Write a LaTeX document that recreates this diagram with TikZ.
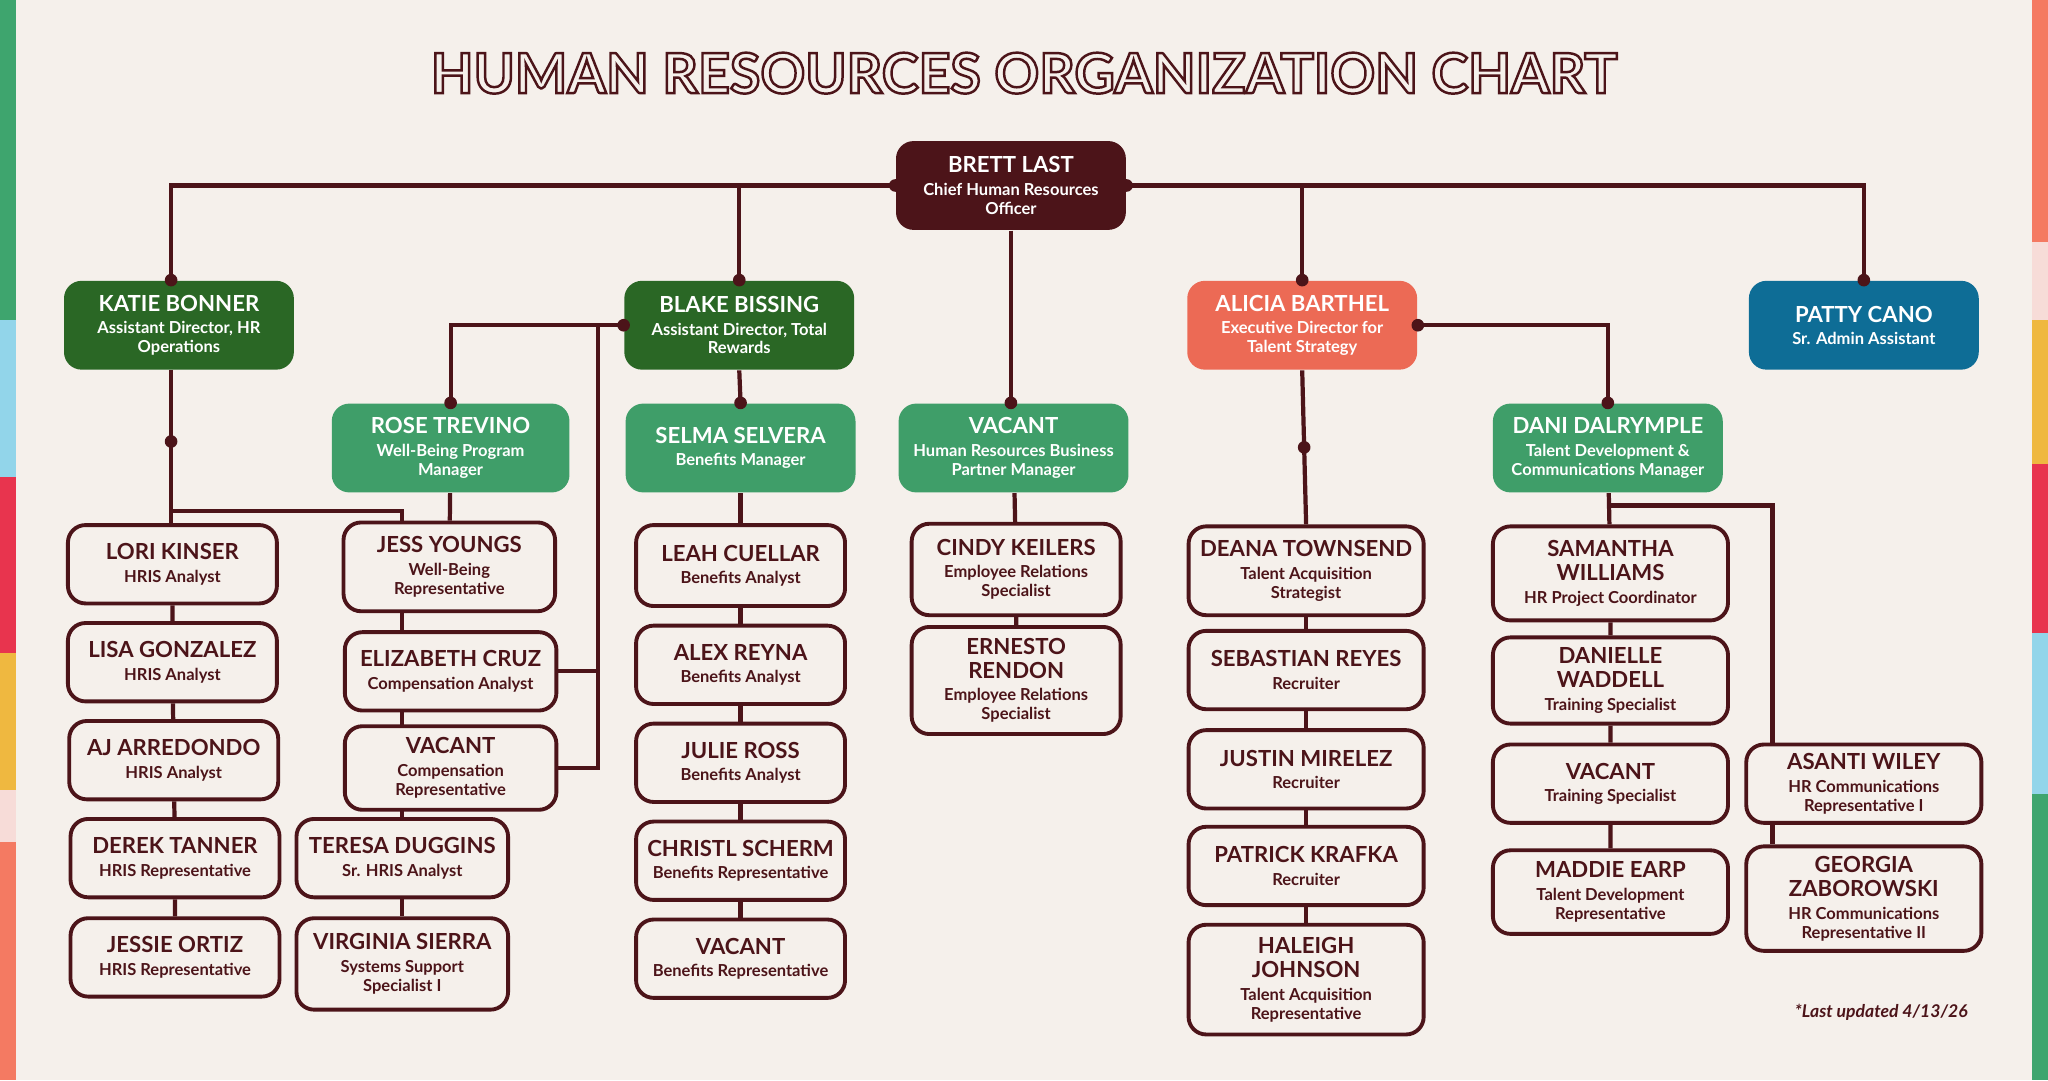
\documentclass[tikz,border=0pt]{standalone}
\usepackage{fontspec}
\setmainfont{Lato}
\usetikzlibrary{positioning,calc}
\definecolor{maroon}{HTML}{4C1419}
\definecolor{dgreen}{HTML}{2A6725}
\definecolor{mgreen}{HTML}{3F9E69}
\definecolor{coral}{HTML}{EC6A55}
\definecolor{pblue}{HTML}{0E6D96}
\definecolor{paper}{HTML}{F5F0EB}
\definecolor{sgreen}{HTML}{3EA56E}
\definecolor{sblue}{HTML}{92D5EA}
\definecolor{sred}{HTML}{E8344E}
\definecolor{syellow}{HTML}{EFB840}
\definecolor{spink}{HTML}{F7DCD8}
\definecolor{scoral}{HTML}{F47A62}
\pgfdeclarelayer{back}
\pgfdeclarelayer{bg}
\pgfsetlayers{back,bg,main}
\hyphenpenalty=10000
\newcommand{\nm}[1]{{\fontsize{6.3}{6.8}\selectfont\bfseries #1\par}\vspace{1pt}}
\newcommand{\rl}[1]{{\fontsize{4.7}{5.4}\selectfont\bfseries #1\par}}
\tikzset{
  box/.style={rounded corners=5pt, align=flush center, inner sep=1pt,
    minimum width=#1*0.01306cm, text width=#1*0.01306cm-4pt},
  head/.style={box=#1, fill=dgreen, text=white, minimum height=68*0.01306cm},
  mgr/.style={box=#1, fill=mgreen, text=white, minimum height=68*0.01306cm},
  leaf/.style={box=#1, draw=maroon, line width=1.1pt, fill=paper, text=maroon},
  ht/.style={minimum height=#1*0.01306cm},
  link/.style={draw=maroon, line width=1.2pt},
  dot/.style={fill=maroon}
}
\newcommand{\dotat}[1]{\fill[dot] (#1) circle (1.8pt);}
\begin{document}
\begin{tikzpicture}[x=0.01306cm, y=-0.01306cm]
  \begin{pgfonlayer}{back}
  \fill[paper] (0,0) rectangle (1568,827);
  % side stripes
  \fill[sgreen] (0,0) rectangle (12,245);
  \fill[sblue] (0,245) rectangle (12,365);
  \fill[sred] (0,365) rectangle (12,500);
  \fill[syellow] (0,500) rectangle (12,605);
  \fill[spink] (0,605) rectangle (12,645);
  \fill[scoral] (0,645) rectangle (12,827);
  \fill[scoral] (1556,0) rectangle (1568,185);
  \fill[spink] (1556,185) rectangle (1568,245);
  \fill[syellow] (1556,245) rectangle (1568,355);
  \fill[sred] (1556,355) rectangle (1568,485);
  \fill[sblue] (1556,485) rectangle (1568,608);
  \fill[sgreen] (1556,608) rectangle (1568,827);
  \end{pgfonlayer}
  % title
  \node[text=maroon] (title) at (784,56) {\fontsize{15.8}{18}\selectfont\bfseries
    \special{pdf:literal direct 1 Tr 0.7 w}HUMAN RESOURCES ORGANIZATION CHART\special{pdf:literal direct 0 Tr}};
  % top levels
  \node[box=176, fill=maroon, text=white, ht=68] (brett) at (774,142) {\nm{BRETT LAST}\rl{Chief Human Resources\\Officer}};
  \node[head=176] (katie) at (137,249) {\nm{KATIE BONNER}\rl{Assistant Director, HR\\Operations}};
  \node[head=176] (blake) at (566,249) {\nm{BLAKE BISSING}\rl{Assistant Director, Total\\Rewards}};
  \node[box=176, fill=coral, text=white, ht=68] (alicia) at (997,249) {\nm{ALICIA BARTHEL}\rl{Executive Director for\\Talent Strategy}};
  \node[box=176, fill=pblue, text=white, ht=68] (patty) at (1427,249) {\nm{PATTY CANO}\rl{Sr. Admin Assistant}};
  \node[mgr=182] (rose) at (345,343) {\nm{ROSE TREVINO}\rl{Well-Being Program\\Manager}};
  \node[mgr=176] (selma) at (567,343) {\nm{SELMA SELVERA}\rl{Benefits Manager}};
  \node[mgr=176] (vacant) at (776,343) {\nm{VACANT}\rl{Human Resources Business\\Partner Manager}};
  \node[mgr=176] (dani) at (1231,343) {\nm{DANI DALRYMPLE}\rl{Talent Development \&\\Communications Manager}};
  % HR operations
  \node[leaf=160, ht=60] (lori) at (132,432) {\nm{LORI KINSER}\rl{HRIS Analyst}};
  \node[leaf=160, ht=60] (lisa) at (132,507) {\nm{LISA GONZALEZ}\rl{HRIS Analyst}};
  \node[leaf=160, ht=60] (aj) at (133,582) {\nm{AJ ARREDONDO}\rl{HRIS Analyst}};
  \node[leaf=160, ht=60] (derek) at (134,657) {\nm{DEREK TANNER}\rl{HRIS Representative}};
  \node[leaf=160, ht=60] (jessie) at (134,733) {\nm{JESSIE ORTIZ}\rl{HRIS Representative}};
  \node[leaf=162, ht=60] (teresa) at (308,657) {\nm{TERESA DUGGINS}\rl{Sr. HRIS Analyst}};
  \node[leaf=162, ht=70] (virginia) at (308,738) {\nm{VIRGINIA SIERRA}\rl{Systems Support\\Specialist I}};
  % total rewards
  \node[leaf=162, ht=68] (jess) at (344,434) {\nm{JESS YOUNGS}\rl{Well-Being\\Representative}};
  \node[leaf=162, ht=60] (eliz) at (345,514) {\nm{ELIZABETH CRUZ}\rl{Compensation Analyst}};
  \node[leaf=162, ht=64] (vcomp) at (345,588) {\nm{VACANT}\rl{Compensation\\Representative}};
  \node[leaf=160, ht=62] (leah) at (567,433) {\nm{LEAH CUELLAR}\rl{Benefits Analyst}};
  \node[leaf=160, ht=60] (alex) at (567,509) {\nm{ALEX REYNA}\rl{Benefits Analyst}};
  \node[leaf=160, ht=60] (julie) at (567,584) {\nm{JULIE ROSS}\rl{Benefits Analyst}};
  \node[leaf=160, ht=60] (christl) at (567,659) {\nm{CHRISTL SCHERM}\rl{Benefits Representative}};
  \node[leaf=160, ht=60] (vben) at (567,734) {\nm{VACANT}\rl{Benefits Representative}};
  % business partners
  \node[leaf=160, ht=70] (cindy) at (778,436) {\nm{CINDY KEILERS}\rl{Employee Relations\\Specialist}};
  \node[leaf=160, ht=82] (ernesto) at (778,521) {\nm{ERNESTO\\RENDON}\rl{Employee Relations\\Specialist}};
  % talent acquisition
  \node[leaf=180, ht=68] (deana) at (1000,437) {\nm{DEANA TOWNSEND}\rl{Talent Acquisition\\Strategist}};
  \node[leaf=180, ht=60] (sebastian) at (1000,513) {\nm{SEBASTIAN REYES}\rl{Recruiter}};
  \node[leaf=180, ht=60] (justin) at (1000,589) {\nm{JUSTIN MIRELEZ}\rl{Recruiter}};
  \node[leaf=180, ht=60] (patrick) at (1000,663) {\nm{PATRICK KRAFKA}\rl{Recruiter}};
  \node[leaf=180, ht=84] (haleigh) at (1000,750) {\nm{HALEIGH\\JOHNSON}\rl{Talent Acquisition\\Representative}};
  % talent development
  \node[leaf=180, ht=72] (samantha) at (1233,439) {\nm{SAMANTHA\\WILLIAMS}\rl{HR Project Coordinator}};
  \node[leaf=180, ht=66] (danielle) at (1233,521) {\nm{DANIELLE\\WADDELL}\rl{Training Specialist}};
  \node[leaf=180, ht=60] (vtrain) at (1233,600) {\nm{VACANT}\rl{Training Specialist}};
  \node[leaf=180, ht=64] (maddie) at (1233,683) {\nm{MADDIE EARP}\rl{Talent Development\\Representative}};
  \node[leaf=180, ht=60] (asanti) at (1427,600) {\nm{ASANTI WILEY}\rl{HR Communications\\Representative I}};
  \node[leaf=180, ht=80] (georgia) at (1427,688) {\nm{GEORGIA\\ZABOROWSKI}\rl{HR Communications\\Representative II}};
  \node[text=maroon, anchor=east] (note) at (1516,775) {\fontsize{5}{6}\selectfont\bfseries\itshape *Last updated 4/13/26};
  % connectors
  \coordinate (kx) at (131,283);
  \begin{pgfonlayer}{bg}
  \draw[link] (brett.west) -| (kx |- katie.north);
  \draw[link] (brett.west) -| (blake.north);
  \draw[link] (brett.east) -| (alicia.north);
  \draw[link] (brett.east) -| (patty.north);
  \draw[link] (brett.south) -- (brett.south |- vacant.north);
  \draw[link] (blake.west) -| (rose.north);
  \draw[link] (blake.south) -- (selma.north);
  \draw[link] (alicia.east) -| (dani.north);
  \draw[link] (alicia.south) -- (deana.north);
  \draw[link] (kx) -- (kx |- lori.north);
  \draw[link] (kx |- 0,391) -| (teresa.north);
  \draw[link] (lori) -- (lisa) -- (aj) -- (derek) -- (jessie);
  \draw[link] (teresa) -- (virginia);
  \draw[link] (blake.west -| 458,0) coordinate (bl) -- (bl |- vcomp.east) -- (vcomp.east);
  \draw[link] (bl |- eliz.east) -- (eliz.east);
  \draw[link] (rose) -- (jess);
  \draw[link] (selma) -- (leah) -- (alex) -- (julie) -- (christl) -- (vben);
  \draw[link] (vacant) -- (cindy) -- (ernesto);
  \draw[link] (deana) -- (sebastian) -- (justin) -- (patrick) -- (haleigh);
  \draw[link] (dani) -- (samantha) -- (danielle) -- (vtrain) -- (maddie);
  \draw[link] (dani.south |- 0,387) -| (1357,0 |- asanti.north) -- (1357,0 |- georgia.north);
  \end{pgfonlayer}
  \dotat{kx |- katie.north} \dotat{blake.north} \dotat{alicia.north} \dotat{patty.north}
  \dotat{brett.south |- vacant.north} \dotat{brett.west} \dotat{brett.east}
  \dotat{rose.north} \dotat{selma.north} \dotat{dani.north} \dotat{blake.west} \dotat{alicia.east}
  \dotat{131,338}
  \dotat{$(alicia.south)!0.5!(deana.north)$}
\end{tikzpicture}
\end{document}
